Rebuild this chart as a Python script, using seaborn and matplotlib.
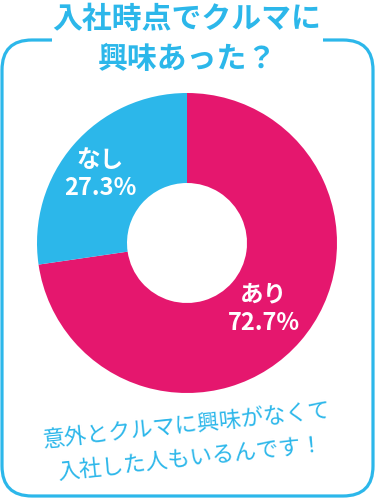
import matplotlib.pyplot as plt
import seaborn as sns
from matplotlib.path import Path
from matplotlib.patches import PathPatch

# data
labels = ['あり', 'なし']
shares = [72.7, 27.3]
colors = ['#e5176e', '#2cb7ea']
title_lines = ['入社時点でクルマに', '興味あった？']
note_lines = ['意外とクルマに興味がなくて', '入社した人もいるんです！']

sns.set_theme(style='white')
plt.rcParams['font.family'] = ['Noto Sans CJK JP', 'DejaVu Sans']

blue = '#2cb7ea'
fig = plt.figure(figsize=(3.75, 5), dpi=100)
fig.patch.set_facecolor('white')

# donut
ax = fig.add_axes([37 / 375, (500 - 393) / 500, 300 / 375, 300 / 500])
ax.pie(shares, colors=colors, startangle=90, counterclock=False,
       wedgeprops=dict(width=0.6, edgecolor='none'), radius=1)
ax.set_xlim(-1, 1)
ax.set_ylim(-1, 1)
ax.set_aspect('equal')
ax.axis('off')

# overlay axes in pixel coords, drawn on top
bg = fig.add_axes([0, 0, 1, 1])
bg.set_xlim(0, 375)
bg.set_ylim(500, 0)
bg.axis('off')
bg.set_zorder(3)

# rounded frame with gap at the top for the title
r = 30
L, R, T, B = 2, 373, 40, 496
verts = [(52, T), (L + r, T), (L, T), (L, T + r), (L, B - r), (L, B), (L + r, B),
         (R - r, B), (R, B), (R, B - r), (R, T + r), (R, T), (R - r, T), (323, T)]
codes = [Path.MOVETO, Path.LINETO, Path.CURVE3, Path.CURVE3, Path.LINETO, Path.CURVE3, Path.CURVE3,
         Path.LINETO, Path.CURVE3, Path.CURVE3, Path.LINETO, Path.CURVE3, Path.CURVE3, Path.LINETO]
bg.add_patch(PathPatch(Path(verts, codes), fill=False, edgecolor=blue, lw=2.3))

bg.text(187, 19, title_lines[0], ha='center', va='center', fontsize=21.5,
        fontweight='bold', color=blue)
bg.text(187, 59, title_lines[1], ha='center', va='center', fontsize=21.5,
        fontweight='bold', color=blue)

bg.text(186, 425, note_lines[0], ha='center', va='center', fontsize=16,
        color=blue, rotation=6)
bg.text(190, 458, note_lines[1], ha='center', va='center', fontsize=16,
        color=blue, rotation=6)

bg.text(264, 309, f'{labels[0]}\n{shares[0]}%', ha='center', va='center',
        fontsize=17, fontweight='bold', color='white', linespacing=1.25)
bg.text(100, 174, f'{labels[1]}\n{shares[1]}%', ha='center', va='center',
        fontsize=17, fontweight='bold', color='white', linespacing=1.25)

fig.savefig('out.png', dpi=100)
